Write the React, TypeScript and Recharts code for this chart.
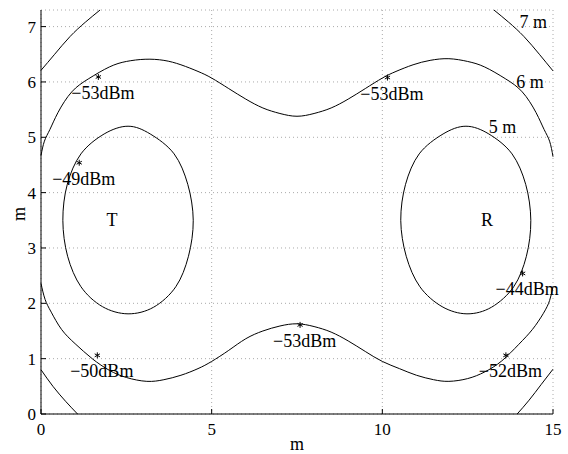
import { ComposedChart, Line, Scatter, XAxis, YAxis, CartesianGrid, Label } from "recharts";

const FONT = "'Liberation Serif', 'Times New Roman', Times, serif";

const xTicks = [0, 5, 10, 15];
const yTicks = [0, 1, 2, 3, 4, 5, 6, 7];

// 7 m contour, four pieces inside the box
const sevenTopLeft = [
  { x: 0, y: 6.21 }, { x: 0.4, y: 6.5 }, { x: 0.85, y: 6.82 }, { x: 1.3, y: 7.08 }, { x: 1.73, y: 7.3 },
];
const sevenTopRight = [
  { x: 13.27, y: 7.3 }, { x: 13.7, y: 7.08 }, { x: 14.15, y: 6.82 }, { x: 14.6, y: 6.5 }, { x: 15, y: 6.2 },
];
const sevenBottomLeft = [
  { x: 0, y: 0.8 }, { x: 0.35, y: 0.5 }, { x: 0.72, y: 0.23 }, { x: 1.07, y: 0 },
];
const sevenBottomRight = [
  { x: 13.95, y: 0 }, { x: 14.3, y: 0.25 }, { x: 14.65, y: 0.53 }, { x: 15, y: 0.81 },
];

// 6 m contour, upper and lower branches
const sixUpper = [
  { x: 0, y: 4.67 }, { x: 0.1, y: 4.93 }, { x: 0.26, y: 5.14 }, { x: 0.5, y: 5.45 }, { x: 0.9, y: 5.82 },
  { x: 1.4, y: 6.06 }, { x: 2.0, y: 6.27 }, { x: 2.5, y: 6.37 }, { x: 3.05, y: 6.41 }, { x: 3.6, y: 6.39 },
  { x: 4.1, y: 6.31 }, { x: 4.6, y: 6.19 }, { x: 5.0, y: 6.07 }, { x: 5.5, y: 5.88 }, { x: 6.0, y: 5.69 },
  { x: 6.5, y: 5.53 }, { x: 7.0, y: 5.43 }, { x: 7.5, y: 5.38 }, { x: 8.0, y: 5.43 }, { x: 8.5, y: 5.53 },
  { x: 9.0, y: 5.69 }, { x: 9.5, y: 5.88 }, { x: 10.0, y: 6.07 }, { x: 10.4, y: 6.19 }, { x: 10.9, y: 6.31 },
  { x: 11.4, y: 6.39 }, { x: 11.95, y: 6.42 }, { x: 12.5, y: 6.37 }, { x: 13.0, y: 6.27 }, { x: 13.6, y: 6.06 },
  { x: 14.1, y: 5.82 }, { x: 14.5, y: 5.45 }, { x: 14.74, y: 5.14 }, { x: 14.9, y: 4.93 }, { x: 15, y: 4.65 },
];
const sixLower = [
  { x: 0, y: 2.36 }, { x: 0.12, y: 2.07 }, { x: 0.3, y: 1.84 }, { x: 0.6, y: 1.53 }, { x: 1.0, y: 1.27 },
  { x: 1.5, y: 1.0 }, { x: 2.0, y: 0.79 }, { x: 2.5, y: 0.66 }, { x: 3.1, y: 0.59 }, { x: 3.6, y: 0.62 },
  { x: 4.1, y: 0.7 }, { x: 4.6, y: 0.82 }, { x: 5.0, y: 0.95 }, { x: 5.5, y: 1.15 }, { x: 6.0, y: 1.36 },
  { x: 6.5, y: 1.5 }, { x: 7.0, y: 1.59 }, { x: 7.5, y: 1.63 }, { x: 8.0, y: 1.58 }, { x: 8.5, y: 1.48 },
  { x: 9.0, y: 1.32 }, { x: 9.5, y: 1.13 }, { x: 10.0, y: 0.95 }, { x: 10.5, y: 0.82 }, { x: 11.0, y: 0.7 },
  { x: 11.5, y: 0.62 }, { x: 11.95, y: 0.59 }, { x: 12.5, y: 0.64 }, { x: 13.0, y: 0.76 }, { x: 13.5, y: 0.96 },
  { x: 14.0, y: 1.26 }, { x: 14.4, y: 1.53 }, { x: 14.72, y: 1.82 }, { x: 14.9, y: 2.05 }, { x: 15, y: 2.3 },
];

// 5 m contour, one oval round T and one round R (drawn closed)
const ovalT = [
  { x: 4.46, y: 3.5 }, { x: 4.32, y: 2.85 }, { x: 3.95, y: 2.3 }, { x: 3.3, y: 1.93 }, { x: 2.55, y: 1.81 },
  { x: 1.8, y: 1.94 }, { x: 1.17, y: 2.3 }, { x: 0.78, y: 2.85 }, { x: 0.64, y: 3.5 }, { x: 0.77, y: 4.15 },
  { x: 1.17, y: 4.7 }, { x: 1.85, y: 5.06 }, { x: 2.55, y: 5.2 }, { x: 3.2, y: 5.06 }, { x: 3.9, y: 4.7 },
  { x: 4.3, y: 4.15 },
];
const ovalR = [
  { x: 14.35, y: 3.5 }, { x: 14.22, y: 2.85 }, { x: 13.85, y: 2.3 }, { x: 13.2, y: 1.93 }, { x: 12.48, y: 1.81 },
  { x: 11.75, y: 1.94 }, { x: 11.1, y: 2.3 }, { x: 10.7, y: 2.85 }, { x: 10.54, y: 3.5 }, { x: 10.68, y: 4.15 },
  { x: 11.08, y: 4.7 }, { x: 11.78, y: 5.06 }, { x: 12.45, y: 5.2 }, { x: 13.12, y: 5.06 }, { x: 13.8, y: 4.7 },
  { x: 14.2, y: 4.15 },
];

const openCurves = [sevenTopLeft, sevenTopRight, sevenBottomLeft, sevenBottomRight, sixUpper, sixLower];
const closedCurves = [ovalT, ovalR];

// closed Catmull-Rom curve, passes through every point
const closedSmooth = (context: any) => {
  let pts: number[][] = [];
  return {
    areaStart() {},
    areaEnd() {},
    lineStart() {
      pts = [];
    },
    point(x: number, y: number) {
      pts.push([+x, +y]);
    },
    lineEnd() {
      const n = pts.length;
      if (!n) return;
      context.moveTo(pts[0][0], pts[0][1]);
      for (let i = 0; i < n; i++) {
        const p0 = pts[(i - 1 + n) % n];
        const p1 = pts[i];
        const p2 = pts[(i + 1) % n];
        const p3 = pts[(i + 2) % n];
        context.bezierCurveTo(
          p1[0] + (p2[0] - p0[0]) / 6,
          p1[1] + (p2[1] - p0[1]) / 6,
          p2[0] - (p3[0] - p1[0]) / 6,
          p2[1] - (p3[1] - p1[1]) / 6,
          p2[0],
          p2[1]
        );
      }
      context.closePath();
    },
  };
};

// measured points
const starX = [1.68, 10.15, 1.12, 14.11, 1.65, 7.59, 13.62];
const starY = [6.09, 6.08, 4.54, 2.54, 1.06, 1.61, 1.06];
const starLabels = ["−53dBm", "−53dBm", "−49dBm", "−44dBm", "−50dBm", "−53dBm", "−52dBm"];

// contour labels and antenna names
const noteX = [14.42, 14.33, 13.52, 2.08, 13.07];
const noteY = [7.08, 6.0, 5.19, 3.5, 3.5];
const noteLabels = ["7 m", "6 m", "5 m", "T", "R"];

const stars = starX.map((x, i) => ({ x, y: starY[i], label: starLabels[i] }));
const notes = noteX.map((x, i) => ({ x, y: noteY[i], label: noteLabels[i] }));

const textStyle = { fontFamily: FONT, fontSize: 18 };

const StarShape = (props: any) => {
  const { cx, cy, payload } = props;
  const r = 3;
  return (
    <g>
      <line x1={cx} y1={cy - r} x2={cx} y2={cy + r} stroke="#000" strokeWidth={1} />
      <line x1={cx - r * 0.87} y1={cy - r * 0.5} x2={cx + r * 0.87} y2={cy + r * 0.5} stroke="#000" strokeWidth={1} />
      <line x1={cx - r * 0.87} y1={cy + r * 0.5} x2={cx + r * 0.87} y2={cy - r * 0.5} stroke="#000" strokeWidth={1} />
      <text x={cx + 4.5} y={cy + 22} textAnchor="middle" style={textStyle} fill="#000">
        {payload.label}
      </text>
    </g>
  );
};

const NoteShape = (props: any) => {
  const { cx, cy, payload } = props;
  return (
    <text x={cx} y={cy + 6} textAnchor="middle" style={textStyle} fill="#000">
      {payload.label}
    </text>
  );
};

const tickStyle = { fontSize: 17, fill: "#000", style: { fontFamily: FONT } };

export default function App() {
  return (
    <div style={{ position: "absolute", left: 0, top: 0, fontFamily: FONT, background: "#fff" }}>
      <ComposedChart width={568} height={454} margin={{ top: 10, right: 15, bottom: 0, left: 0 }} style={{ fontFamily: FONT }}>
        <CartesianGrid stroke="#aaa" strokeDasharray="1 3" />
        <XAxis
          dataKey="x"
          type="number"
          domain={[0, 15]}
          ticks={xTicks}
          height={40}
          tickSize={-5}
          tickMargin={14}
          tick={tickStyle}
          axisLine={{ stroke: "#000" }}
          tickLine={{ stroke: "#000" }}
        >
          <Label
            content={(p: any) => {
              const vb = p.viewBox;
              return (
                <text x={vb.x + vb.width / 2} y={vb.y + 36} textAnchor="middle" style={textStyle} fill="#000">
                  m
                </text>
              );
            }}
          />
        </XAxis>
        <XAxis
          xAxisId="top"
          orientation="top"
          dataKey="x"
          type="number"
          domain={[0, 15]}
          ticks={xTicks}
          height={0}
          tickSize={-5}
          tick={false}
          axisLine={{ stroke: "#000" }}
          tickLine={{ stroke: "#000" }}
        />
        <YAxis
          dataKey="y"
          type="number"
          domain={[0, 7.3]}
          ticks={yTicks}
          width={41}
          tickSize={-5}
          tickMargin={10}
          tick={tickStyle}
          axisLine={{ stroke: "#000" }}
          tickLine={{ stroke: "#000" }}
        >
          <Label
            content={(p: any) => {
              const vb = p.viewBox;
              const x = vb.x + 25;
              const y = vb.y + vb.height / 2 + 2;
              return (
                <text x={x} y={y} transform={`rotate(-90 ${x} ${y})`} textAnchor="middle" style={textStyle} fill="#000">
                  m
                </text>
              );
            }}
          />
        </YAxis>
        <YAxis
          yAxisId="right"
          orientation="right"
          dataKey="y"
          type="number"
          domain={[0, 7.3]}
          ticks={yTicks}
          width={0}
          tickSize={-5}
          tick={false}
          axisLine={{ stroke: "#000" }}
          tickLine={{ stroke: "#000" }}
        />
        {openCurves.map((c, i) => (
          <Line
            key={`o-${i}`}
            data={c}
            dataKey="y"
            type="natural"
            stroke="#000"
            strokeWidth={1}
            dot={false}
            activeDot={false}
            isAnimationActive={false}
          />
        ))}
        {closedCurves.map((c, i) => (
          <Line
            key={`c-${i}`}
            data={c}
            dataKey="y"
            type={closedSmooth as any}
            stroke="#000"
            strokeWidth={1}
            fill="none"
            dot={false}
            activeDot={false}
            isAnimationActive={false}
          />
        ))}
        <Scatter data={stars} dataKey="y" shape={StarShape} isAnimationActive={false} />
        <Scatter data={notes} dataKey="y" shape={NoteShape} isAnimationActive={false} />
      </ComposedChart>
    </div>
  );
}
